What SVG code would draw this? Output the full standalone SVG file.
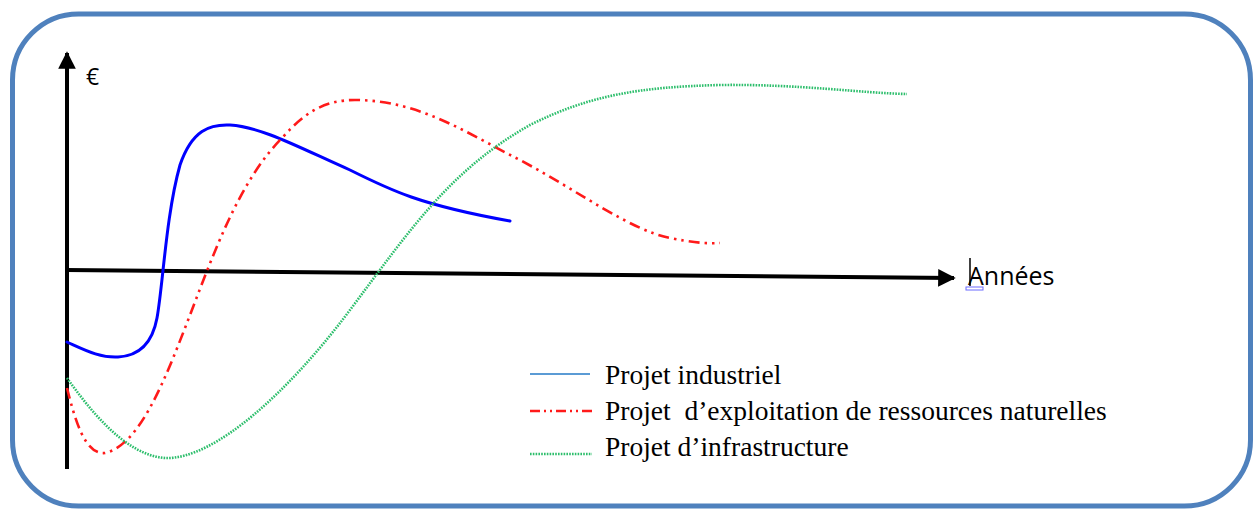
<svg xmlns="http://www.w3.org/2000/svg" width="1257" height="511" viewBox="0 0 1257 511">
<defs>
<style>
.frame{fill:#fff;stroke:#4F81BD;stroke-width:5}
.axis{stroke:#000;stroke-width:4;fill:none}
.ind{stroke:#0000FF;stroke-width:3;fill:none;stroke-linecap:round}
.nat{stroke:#FF1A1A;stroke-width:2.6;fill:none;stroke-dasharray:11 5 2.5 5 2.5 5}
.inf{stroke:#2DBE6C;stroke-width:2.6;fill:none;stroke-dasharray:1.6 1.2}
.leg{font-family:"Liberation Serif","Times New Roman",serif;font-size:27.5px;fill:#000;white-space:pre}
.lab{font-family:"Open Sans","Liberation Sans",sans-serif;font-size:25px;fill:#000}
</style>
<marker id="ah" viewBox="0 0 10 10" refX="9" refY="5" markerWidth="4.4" markerHeight="4.4" orient="auto" markerUnits="strokeWidth">
<path d="M0,0 L10,5 L0,10 z" fill="#000"/>
</marker>
</defs>
<rect class="frame" x="12.5" y="14" width="1238" height="492" rx="66" ry="66"/>
<g id="axes">
<line class="axis" x1="67" y1="469" x2="67" y2="53" marker-end="url(#ah)"/>
<line class="axis" x1="66" y1="270" x2="954" y2="278" marker-end="url(#ah)"/>
<text class="lab" x="86" y="85" style="font-size:23px">€</text>
<line x1="970" y1="258" x2="970" y2="286" stroke="#000" stroke-width="1.5"/>
<rect x="966" y="287" width="17" height="3" fill="none" stroke="#6B6BFF" stroke-width="1"/>
<text class="lab" x="968" y="285">Années</text>
</g>
<g id="curves">
<path id="curve-industriel" class="ind" d="M67,342 C85,350 100,358 118,357 C138,356 152,345 157,318 C163,285 166,215 180,165 C192,130 210,124 230,125 C262,127 300,148 350,170 C390,190 420,205 510,221"/>
<path id="curve-naturelles" class="nat" d="M67,388 C75,420 85,455 105,453 C140,445 165,380 190,315 C215,250 240,180 283,137 C305,112 325,100 355,100 C420,100 470,135 520,160 C580,192 630,230 670,238 C690,242 705,244 720,243"/>
<path id="curve-infrastructure" class="inf" d="M67,378 C90,410 125,455 165,458 C215,460 290,390 350,310 C410,230 450,170 530,125 C590,95 640,87 720,85 C800,84 860,93 907,94"/>
</g>
<g id="legend">
<line x1="530" y1="374" x2="590" y2="374" stroke="#5B9BD5" stroke-width="2.2"/>
<line class="nat" x1="530" y1="411" x2="592" y2="411" style="stroke-dasharray:10 4 2 4 2 4"/>
<line class="inf" x1="530" y1="454" x2="592" y2="454"/>
<text class="leg" x="605" y="384">Projet industriel</text>
<text class="leg" x="605" y="420" xml:space="preserve">Projet  d’exploitation de ressources naturelles</text>
<text class="leg" x="605" y="456">Projet d’infrastructure</text>
</g>
</svg>
